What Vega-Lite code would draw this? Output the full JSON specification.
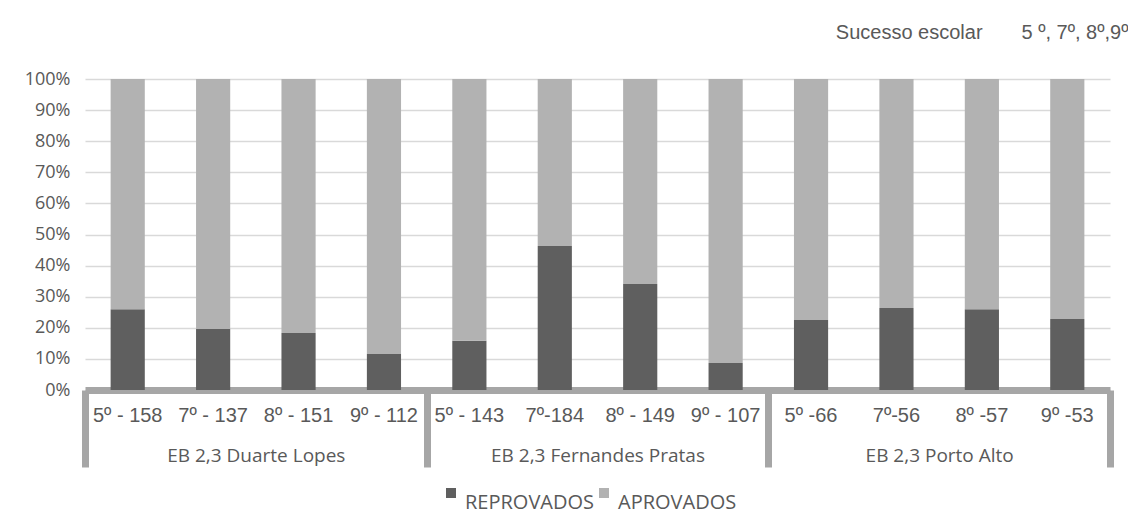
{
  "$schema": "https://vega.github.io/schema/vega-lite/v6.json",
  "width": 1025,
  "height": 311,
  "autosize": {"type": "none"},
  "padding": {"left": 85, "top": 79, "right": 18, "bottom": 129},
  "background": "white",
  "config": {"view": {"stroke": null}, "font": "Open Sans"},
  "title": {
    "text": "Sucesso escolar\u00a0\u00a0\u00a0\u00a0\u00a0\u00a0\u00a05 º, 7º, 8º,9º",
    "anchor": "end",
    "dx": 15,
    "offset": 11,
    "baseline": "alphabetic",
    "fontSize": 20,
    "fontWeight": "normal",
    "color": "#595959",
    "font": "Liberation Sans"
  },
  "datasets": {
    "bars": [
      {"school": "EB 2,3 Duarte Lopes", "cat": "5º - 158", "status": "REPROVADOS", "value": 0.260},
      {"school": "EB 2,3 Duarte Lopes", "cat": "5º - 158", "status": "APROVADOS", "value": 0.740},
      {"school": "EB 2,3 Duarte Lopes", "cat": "7º - 137", "status": "REPROVADOS", "value": 0.196},
      {"school": "EB 2,3 Duarte Lopes", "cat": "7º - 137", "status": "APROVADOS", "value": 0.804},
      {"school": "EB 2,3 Duarte Lopes", "cat": "8º - 151", "status": "REPROVADOS", "value": 0.183},
      {"school": "EB 2,3 Duarte Lopes", "cat": "8º - 151", "status": "APROVADOS", "value": 0.817},
      {"school": "EB 2,3 Duarte Lopes", "cat": "9º - 112", "status": "REPROVADOS", "value": 0.116},
      {"school": "EB 2,3 Duarte Lopes", "cat": "9º - 112", "status": "APROVADOS", "value": 0.884},
      {"school": "EB 2,3 Fernandes Pratas", "cat": "5º - 143", "status": "REPROVADOS", "value": 0.158},
      {"school": "EB 2,3 Fernandes Pratas", "cat": "5º - 143", "status": "APROVADOS", "value": 0.842},
      {"school": "EB 2,3 Fernandes Pratas", "cat": "7º-184", "status": "REPROVADOS", "value": 0.463},
      {"school": "EB 2,3 Fernandes Pratas", "cat": "7º-184", "status": "APROVADOS", "value": 0.537},
      {"school": "EB 2,3 Fernandes Pratas", "cat": "8º - 149", "status": "REPROVADOS", "value": 0.341},
      {"school": "EB 2,3 Fernandes Pratas", "cat": "8º - 149", "status": "APROVADOS", "value": 0.659},
      {"school": "EB 2,3 Fernandes Pratas", "cat": "9º - 107", "status": "REPROVADOS", "value": 0.087},
      {"school": "EB 2,3 Fernandes Pratas", "cat": "9º - 107", "status": "APROVADOS", "value": 0.913},
      {"school": "EB 2,3 Porto Alto", "cat": "5º -66", "status": "REPROVADOS", "value": 0.225},
      {"school": "EB 2,3 Porto Alto", "cat": "5º -66", "status": "APROVADOS", "value": 0.775},
      {"school": "EB 2,3 Porto Alto", "cat": "7º-56", "status": "REPROVADOS", "value": 0.264},
      {"school": "EB 2,3 Porto Alto", "cat": "7º-56", "status": "APROVADOS", "value": 0.736},
      {"school": "EB 2,3 Porto Alto", "cat": "8º -57", "status": "REPROVADOS", "value": 0.260},
      {"school": "EB 2,3 Porto Alto", "cat": "8º -57", "status": "APROVADOS", "value": 0.740},
      {"school": "EB 2,3 Porto Alto", "cat": "9º -53", "status": "REPROVADOS", "value": 0.228},
      {"school": "EB 2,3 Porto Alto", "cat": "9º -53", "status": "APROVADOS", "value": 0.772}
    ],
    "schools": [
      {"school": "EB 2,3 Duarte Lopes"},
      {"school": "EB 2,3 Fernandes Pratas"},
      {"school": "EB 2,3 Porto Alto"}
    ]
  },
  "layer": [
    {
      "data": {"name": "bars"},
      "mark": {"type": "bar"},
      "encoding": {
        "x": {
          "field": "cat",
          "type": "nominal",
          "sort": null,
          "scale": {"paddingInner": 0.6, "paddingOuter": 0.3},
          "axis": {
            "title": null,
            "domain": false,
            "ticks": false,
            "grid": false,
            "labelAngle": 0,
            "labelFontSize": 20,
            "labelColor": "#595959",
            "labelPadding": 15,
            "labelLimit": 500,
            "labelFont": "Liberation Sans"
          }
        },
        "y": {
          "field": "value",
          "type": "quantitative",
          "stack": "zero",
          "scale": {"domain": [0, 1]},
          "axis": {
            "title": null,
            "format": ".0%",
            "values": [0, 0.1, 0.2, 0.3, 0.4, 0.5, 0.6, 0.7, 0.8, 0.9, 1],
            "labelOverlap": false,
            "domain": false,
            "ticks": false,
            "labelFontSize": 18,
            "labelColor": "#595959",
            "labelPadding": 15,
            "labelFont": "Open Sans",
            "gridColor": "#d9d9d9",
            "gridWidth": 1.5
          }
        },
        "color": {
          "field": "status",
          "type": "nominal",
          "scale": {"domain": ["REPROVADOS", "APROVADOS"], "range": ["#5f5f5f", "#b2b2b2"]},
          "legend": {
            "title": null,
            "orient": "none",
            "legendX": 356,
            "legendY": 404,
            "direction": "horizontal",
            "symbolType": "square",
            "symbolSize": 100,
            "symbolStrokeWidth": 0,
            "labelFontSize": 20,
            "labelColor": "#595959",
            "labelFont": "Open Sans",
            "labelBaseline": "top",
            "labelOffset": 4,
            "columnPadding": 0
          }
        },
        "order": {"field": "status", "sort": "descending"}
      }
    },
    {
      "data": {"name": "schools"},
      "mark": {"type": "point", "opacity": 0},
      "encoding": {
        "x": {
          "field": "school",
          "type": "nominal",
          "sort": null,
          "scale": {"type": "band", "paddingInner": 0, "paddingOuter": 0},
          "axis": {
            "title": null,
            "orient": "bottom",
            "tickBand": "extent",
            "grid": false,
            "domainColor": "#a6a6a6",
            "domainWidth": 7,
            "tickColor": "#a6a6a6",
            "tickWidth": 7,
            "tickSize": 77,
            "labelPadding": -21,
            "labelAngle": 0,
            "labelFontSize": 19,
            "labelLimit": 500,
            "labelColor": "#595959",
            "labelFont": "Open Sans"
          }
        }
      }
    }
  ],
  "resolve": {"scale": {"x": "independent"}, "axis": {"x": "independent"}}
}
